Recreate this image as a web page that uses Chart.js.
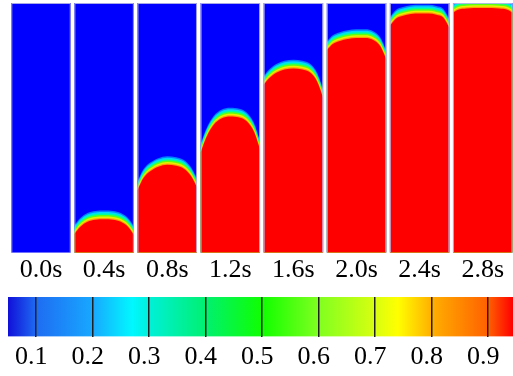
<!DOCTYPE html>
<html>
<head>
<meta charset="utf-8">
<script src="https://cdn.jsdelivr.net/npm/chart.js@4/dist/chart.umd.min.js"></script>
<style>
  body { margin: 0; background: #fff; }
  canvas { display: block; }
</style>
</head>
<body>
<canvas id="columns" width="513" height="290"></canvas>
<canvas id="scalebar" width="513" height="86"></canvas>
<script>
// time labels under each column
var times = ['0.0s', '0.4s', '0.8s', '1.2s', '1.6s', '2.0s', '2.4s', '2.8s'];

// front height (fraction of column height) at positions across the column width
var frontPos = [0, 0.1, 0.22, 0.35, 0.5, 0.65, 0.78, 0.9, 1];
var front04 = [0.089, 0.118, 0.138, 0.146, 0.148, 0.146, 0.138, 0.118, 0.085];
var front08 = [0.264, 0.313, 0.341, 0.358, 0.366, 0.362, 0.350, 0.321, 0.276];
var front12 = [0.415, 0.478, 0.527, 0.552, 0.560, 0.556, 0.540, 0.498, 0.427];
var front16 = [0.687, 0.715, 0.736, 0.748, 0.752, 0.748, 0.736, 0.699, 0.634];
var front20 = [0.825, 0.850, 0.862, 0.870, 0.874, 0.874, 0.866, 0.841, 0.789];
var front24 = [0.923, 0.951, 0.963, 0.970, 0.972, 0.972, 0.967, 0.955, 0.915];
var front28 = [0.976, 0.988, 0.992, 0.994, 0.994, 0.994, 0.992, 0.988, 0.976];
var fronts = [null, front04, front08, front12, front16, front20, front24, front28];

// colour scale
var scaleTicks = [0.1, 0.2, 0.3, 0.4, 0.5, 0.6, 0.7, 0.8, 0.9];
var scaleLabels = ['0.1', '0.2', '0.3', '0.4', '0.5', '0.6', '0.7', '0.8', '0.9'];

var colWidth = 0.943;
var serif = "'Times New Roman', Times, 'Liberation Serif', 'DejaVu Serif', serif";

// transition band between the two phases (offset from the front, colour)
var bandLayers = [
    [0.021, '#0080ff'],
    [0.015, '#00d8ff'],
    [0.009, '#00ffa0'],
    [0.003, '#60ff10'],
    [-0.003, '#e8f000'],
    [-0.009, '#ffa000'],
    [-0.014, '#ff0000']
];

function drawCharts() {
    var datasets = [];
    datasets.push({
        type: 'bar',
        data: times.map((t, i) => ({ x: i, y: [0, 1] })),
        backgroundColor: '#0000ff',
        grouped: false,
        barPercentage: colWidth,
        categoryPercentage: 1,
        order: 20
    });

    fronts.forEach((front, i) => {
        if (!front) return;
        bandLayers.forEach((layer, k) => {
            datasets.push({
                type: 'line',
                data: frontPos.map((u, j) => ({
                    x: i - colWidth / 2 + u * colWidth,
                    y: Math.min(1, front[j] + layer[0])
                })),
                backgroundColor: layer[1],
                borderColor: 'rgba(0,0,0,0)',
                borderWidth: 0,
                pointRadius: 0,
                fill: 'origin',
                cubicInterpolationMode: 'monotone',
                order: 15 - k
            });
        });
    });

    datasets.push({
        type: 'bar',
        data: times.map((t, i) => ({ x: i, y: [0, 1] })),
        backgroundColor: 'rgba(0,0,0,0)',
        borderColor: 'rgba(185,185,230,0.9)',
        borderWidth: 1,
        grouped: false,
        barPercentage: colWidth,
        categoryPercentage: 1,
        order: 0
    });

    new Chart(document.getElementById('columns'), {
        type: 'line',
        data: { datasets: datasets },
        options: {
            responsive: false,
            animation: false,
            layout: { padding: { top: 3, bottom: 2, left: 0, right: 0 } },
            plugins: { legend: { display: false }, tooltip: { enabled: false } },
            scales: {
                x: {
                    type: 'linear',
                    min: -0.65,
                    max: 7.48,
                    offset: false,
                    grid: { display: false, drawTicks: false },
                    border: { display: false },
                    afterBuildTicks: (scale) => {
                        scale.ticks = times.map((t, i) => ({ value: i }));
                    },
                    ticks: {
                        autoSkip: false,
                        maxRotation: 0,
                        padding: 2,
                        color: '#000',
                        font: { family: serif, size: 26 },
                        callback: (value, index) => times[index]
                    }
                },
                y: { display: false, min: 0, max: 1 }
            }
        }
    });

    // colour bar
    var barMin = 0.05;
    var barMax = 0.944;
    var colourStops = [
        [0.05, '#1010d8'], [0.1, '#1e6cf2'], [0.2, '#18a8ff'], [0.27, '#00f8ff'],
        [0.3, '#00f0d8'], [0.4, '#00f070'], [0.5, '#10ff00'], [0.6, '#80ff20'],
        [0.7, '#d8ff10'], [0.74, '#ffff00'], [0.8, '#ffb000'], [0.9, '#ff6000'],
        [0.944, '#ff0000']
    ];

    new Chart(document.getElementById('scalebar'), {
        type: 'bar',
        data: {
            labels: ['vf'],
            datasets: [{
                data: [[barMin, barMax]],
                backgroundColor: (c) => {
                    var chart = c.chart;
                    var xs = chart.scales.x;
                    if (!chart.chartArea || !xs) return '#00ff00';
                    var g = chart.ctx.createLinearGradient(xs.getPixelForValue(barMin), 0, xs.getPixelForValue(barMax), 0);
                    colourStops.forEach(s => g.addColorStop((s[0] - barMin) / (barMax - barMin), s[1]));
                    return g;
                },
                barPercentage: 1,
                categoryPercentage: 1
            }]
        },
        options: {
            indexAxis: 'y',
            responsive: false,
            animation: false,
            layout: { padding: { top: 7, bottom: 0, left: 8, right: 0 } },
            plugins: { legend: { display: false }, tooltip: { enabled: false } },
            scales: {
                x: {
                    type: 'linear',
                    min: barMin,
                    max: barMax,
                    grid: { color: '#202020', lineWidth: 1.5, drawTicks: false, z: 1 },
                    border: { display: false },
                    afterBuildTicks: (scale) => {
                        scale.ticks = scaleTicks.map(v => ({ value: v }));
                    },
                    ticks: {
                        autoSkip: false,
                        maxRotation: 0,
                        padding: 5,
                        labelOffset: -5,
                        color: '#000',
                        font: { family: serif, size: 26 },
                        callback: (value, index) => scaleLabels[index]
                    }
                },
                y: { display: false }
            }
        }
    });
}

drawCharts();
</script>
</body>
</html>
